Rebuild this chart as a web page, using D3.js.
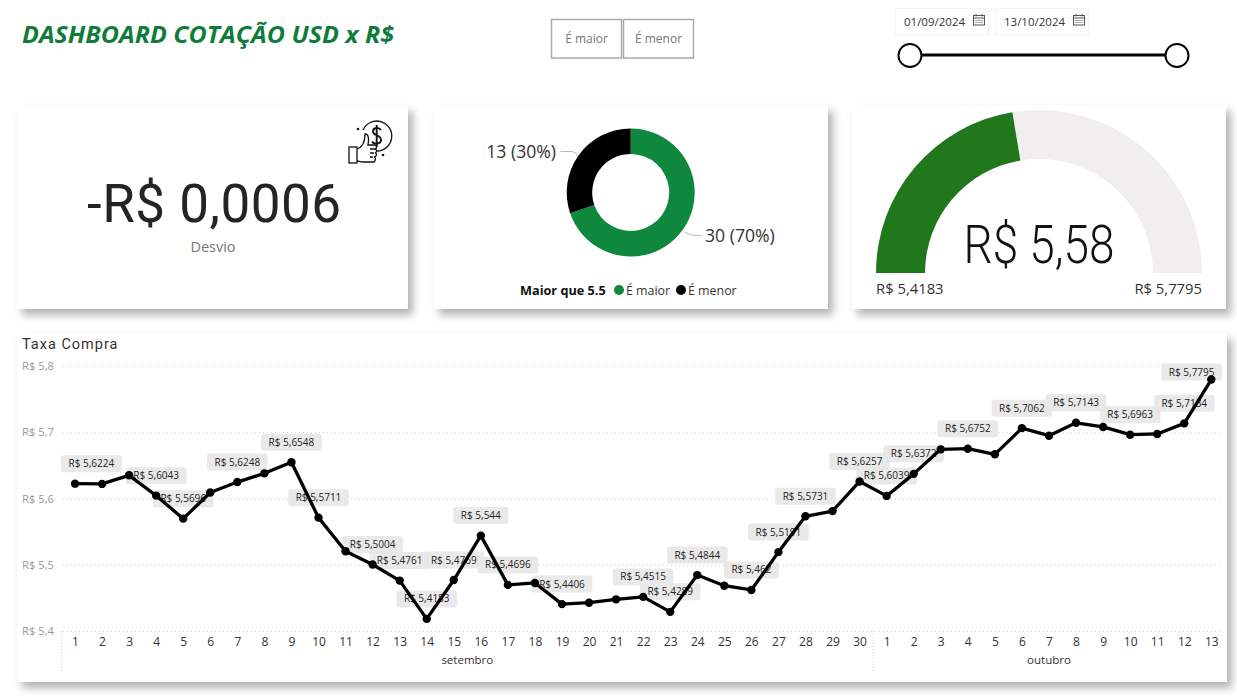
<!DOCTYPE html>
<html>
<head>
<meta charset="utf-8">
<script src="https://cdn.jsdelivr.net/npm/d3@7"></script>
<style>
  html, body { margin: 0; padding: 0; background: #fff; overflow: hidden; }
  svg { display: block; }
  text { font-family: "Open Sans", "Noto Sans", sans-serif; }
  .din { font-family: Roboto, sans-serif; }
  .y-axis .domain, .x-axis .domain, .x-axis .tick line { display: none; }
  .y-axis .tick line { stroke: #cfcfcf; stroke-dasharray: 1 3; }
  .y-axis .tick text { fill: #999; font-size: 11.2px; font-family: "Open Sans", sans-serif; }
  .x-axis .tick text { fill: #333; font-size: 12px; font-family: "Open Sans", sans-serif; }
</style>
</head>
<body>
<svg id="dash" width="1237" height="697"></svg>
<script>
const days = [
  1, 2, 3, 4, 5, 6, 7, 8, 9, 10, 11, 12, 13, 14, 15, 16, 17, 18, 19, 20, 21, 22, 23, 24, 25, 26, 27, 28, 29, 30,
  1, 2, 3, 4, 5, 6, 7, 8, 9, 10, 11, 12, 13,
];
const taxaCompra = [
  5.6224, 5.622, 5.635, 5.6043, 5.5696, 5.609, 5.6248, 5.638, 5.6548, 5.5711,
  5.5203, 5.5004, 5.4761, 5.4183, 5.4769, 5.544, 5.4696, 5.4725, 5.4406, 5.4427,
  5.4478, 5.4515, 5.4289, 5.4844, 5.4684, 5.462, 5.5191, 5.5731, 5.581, 5.6257,
  5.6039, 5.6372, 5.6742, 5.6752, 5.6667, 5.7062, 5.6948, 5.7143, 5.708, 5.6963,
  5.6974, 5.7134, 5.7795,
];
// positions in the series that carry a data label
const labelled = [0, 3, 4, 6, 8, 9, 11, 12, 13, 14, 15, 16, 18, 21, 22, 23, 25, 26, 27, 29, 30, 31, 33, 35, 37, 39, 41, 42];
const yTicks = [5.4, 5.5, 5.6, 5.7, 5.8];
const months = ["setembro", "outubro"];
const monthDays = [30, 13];

const donutNames = ["É maior", "É menor"];
const donutValues = [30, 13];
const donutLabels = ["30 (70%)", "13 (30%)"];
const donutColors = ["#0f873d", "#000000"];

const gaugeMin = 5.4183;
const gaugeMax = 5.7795;
const gaugeValue = 5.58;
const desvio = "-R$ 0,0006";
const dateFrom = "01/09/2024";
const dateTo = "13/10/2024";

const locale = d3.formatLocale({ decimal: ",", thousands: ".", grouping: [3], currency: ["R$ ", ""] });
const fmtLabel = locale.format("$.4~f");
const fmtTick = locale.format("$.1f");
const fmtGauge = locale.format("$.2f");
const fmtEnds = locale.format("$.4f");

const svg = d3.select("#dash");
const defs = svg.append("defs");
defs.append("filter")
  .attr("id", "card-shadow")
  .attr("x", "-5%").attr("y", "-5%").attr("width", "112%").attr("height", "115%")
  .append("feDropShadow")
  .attr("dx", 5).attr("dy", 6).attr("stdDeviation", 4)
  .attr("flood-color", "#000").attr("flood-opacity", 0.3);

function card(x, y, w, h) {
  svg.append("rect")
    .attr("x", x).attr("y", y).attr("width", w).attr("height", h)
    .attr("fill", "#fff")
    .attr("filter", "url(#card-shadow)");
}
card(17, 105, 391, 204);
card(434, 105, 394, 204);
card(852, 105, 374, 204);
card(17, 333, 1210, 349);

// header
svg.append("text")
  .attr("x", 22).attr("y", 43)
  .attr("fill", "#0f7c3b")
  .attr("font-size", 23.5).attr("font-weight", 700).attr("font-style", "italic")
  .attr("textLength", 372).attr("lengthAdjust", "spacingAndGlyphs")
  .text("DASHBOARD COTAÇÃO USD x R$");

const buttons = svg.append("g").selectAll("g")
  .data(donutNames)
  .join("g")
  .attr("transform", (d, i) => `translate(${551 + i * 72},19)`);
buttons.append("rect")
  .attr("x", 0.5).attr("y", 0.5).attr("width", 70).attr("height", 38.5)
  .attr("fill", "#fff").attr("stroke", "#ababab").attr("stroke-width", 1.5);
buttons.append("text")
  .attr("x", 35.5).attr("y", 24)
  .attr("text-anchor", "middle").attr("font-size", 12).attr("fill", "#777")
  .text((d) => d);

// date slicer
const dates = svg.append("g").selectAll("g")
  .data([dateFrom, dateTo])
  .join("g")
  .attr("transform", (d, i) => `translate(${895 + i * 100},8)`);
dates.append("rect")
  .attr("x", 0.5).attr("y", 0.5).attr("width", 93).attr("height", 26.5)
  .attr("fill", "#fff").attr("stroke", "#f4f4f4");
dates.append("text")
  .attr("x", 9).attr("y", 18)
  .attr("font-size", 11.5).attr("fill", "#333")
  .text((d) => d);
const cal = dates.append("g").attr("transform", "translate(78,6)")
  .attr("fill", "none").attr("stroke", "#555").attr("stroke-width", 1);
cal.append("rect").attr("x", 0.5).attr("y", 1.5).attr("width", 11).attr("height", 9.5);
cal.append("path").attr("d", "M0.5 4H11.5M3 0V2.5M9 0V2.5");
cal.append("path").attr("d", "M2.5 6.5H9.5M2.5 8.5H9.5").attr("stroke-dasharray", "1 1");

svg.append("line")
  .attr("x1", 910).attr("x2", 1177).attr("y1", 55).attr("y2", 55)
  .attr("stroke", "#000").attr("stroke-width", 3);
svg.append("g").selectAll("circle")
  .data([910, 1177])
  .join("circle")
  .attr("cx", (d) => d).attr("cy", 55.5).attr("r", 11.5)
  .attr("fill", "#fff").attr("stroke", "#000").attr("stroke-width", 2);

// KPI card
svg.append("text")
  .attr("class", "din")
  .attr("x", 214).attr("y", 222)
  .attr("text-anchor", "middle")
  .attr("font-size", 53).attr("fill", "#252423")
  .attr("textLength", 254).attr("lengthAdjust", "spacing")
  .text(desvio);
svg.append("text")
  .attr("x", 213).attr("y", 252)
  .attr("text-anchor", "middle").attr("font-size", 14.5).attr("fill", "#777")
  .text("Desvio");

const icon = svg.append("g").attr("transform", "translate(348,120)")
  .attr("fill", "none").attr("stroke", "#111").attr("stroke-width", 1.3);
icon.append("path").attr("d", "M15 10A15 15 0 1 1 29 31");
icon.append("path").attr("stroke-width", 1.9).attr("d", "M33 10C31 7 25 7 25 11.5C25 16 33 14.5 33 20C33 24 26 25 24 21.5M28.7 5V27");
icon.append("rect").attr("x", 1).attr("y", 27).attr("width", 8).attr("height", 16);
icon.append("path").attr("d", "M9 29C15 27 17 22 17 14C21 14 21 20 20 25H27C29 25 29 29 27 29H26M27 29C29 29 29 33 27 33M27 33C29 33 29 37 26 37M26 37C28 37 28 42 25 42H15C12 42 11 41 9 41");
icon.append("path").attr("d", "M22 29H26M22 33H26M22 37H25");
icon.append("g").attr("fill", "#111").attr("stroke", "none").selectAll("circle")
  .data([[10, 9], [35, 35]])
  .join("circle")
  .attr("cx", (d) => d[0]).attr("cy", (d) => d[1]).attr("r", 1.3);

// donut
const pie = d3.pie().sort(null)(donutValues);
const donutArc = d3.arc().innerRadius(38.5).outerRadius(64);
const donut = svg.append("g").attr("transform", "translate(630.7,192.5)");
donut.selectAll("path")
  .data(pie)
  .join("path")
  .attr("d", donutArc)
  .attr("fill", (d, i) => donutColors[i]);

svg.append("path")
  .attr("d", "M560.5 151.5H572Q576 151.5 578 157")
  .attr("fill", "none").attr("stroke", "#bbb");
svg.append("path")
  .attr("d", "M685 232Q690 235.5 695 235.5H702")
  .attr("fill", "none").attr("stroke", "#bbb");
svg.append("text")
  .attr("x", 556).attr("y", 158).attr("text-anchor", "end")
  .attr("font-size", 17.6).attr("fill", "#333")
  .text(donutLabels[1]);
svg.append("text")
  .attr("x", 705).attr("y", 242)
  .attr("font-size", 17.6).attr("fill", "#333")
  .text(donutLabels[0]);

svg.append("text")
  .attr("x", 520).attr("y", 295)
  .attr("font-size", 12.7).attr("font-weight", 700).attr("fill", "#111")
  .text("Maior que 5.5");
const legend = svg.append("g").selectAll("g")
  .data(donutNames)
  .join("g")
  .attr("transform", (d, i) => `translate(${619 + i * 62},290)`);
legend.append("circle")
  .attr("r", 5)
  .attr("fill", (d, i) => donutColors[i]);
legend.append("text")
  .attr("x", 7).attr("y", 5)
  .attr("font-size", 12.4).attr("fill", "#333")
  .text((d) => d);

// gauge
const gaugeAngle = d3.scaleLinear().domain([gaugeMin, gaugeMax]).range([-Math.PI / 2, Math.PI / 2]);
const gaugeArc = d3.arc().innerRadius(114).outerRadius(163);
const gauge = svg.append("g").attr("transform", "translate(1039,273)");
gauge.append("path")
  .attr("d", gaugeArc({ startAngle: -Math.PI / 2, endAngle: Math.PI / 2 }))
  .attr("fill", "#f1efee");
gauge.append("path")
  .attr("d", gaugeArc({ startAngle: -Math.PI / 2, endAngle: gaugeAngle(gaugeValue) }))
  .attr("fill", "#21781c");
svg.append("text")
  .attr("class", "din")
  .attr("x", 1039).attr("y", 263)
  .attr("text-anchor", "middle")
  .attr("font-size", 54).attr("font-weight", 300).attr("fill", "#111")
  .attr("textLength", 151).attr("lengthAdjust", "spacingAndGlyphs")
  .text(fmtGauge(gaugeValue));
svg.append("text")
  .attr("x", 876).attr("y", 294)
  .attr("font-size", 14.8).attr("fill", "#333")
  .text(fmtEnds(gaugeMin));
svg.append("text")
  .attr("x", 1202).attr("y", 294).attr("text-anchor", "end")
  .attr("font-size", 14.8).attr("fill", "#333")
  .text(fmtEnds(gaugeMax));

// line chart
svg.append("text")
  .attr("class", "din")
  .attr("x", 22).attr("y", 349)
  .attr("font-size", 14.5).attr("fill", "#333").attr("letter-spacing", 1)
  .text("Taxa Compra");

const idx = d3.range(days.length);
const x = d3.scalePoint().domain(idx).range([75, 1211.3]);
const y = d3.scaleLinear().domain([5.4, 5.8]).range([631, 366]);
const step = x.step();

svg.append("g")
  .attr("class", "y-axis")
  .attr("transform", "translate(63,0)")
  .call(d3.axisLeft(y).tickValues(yTicks).tickFormat(fmtTick).tickSize(-1158).tickPadding(9));

svg.append("g")
  .attr("class", "x-axis")
  .attr("transform", "translate(0,631)")
  .call(d3.axisBottom(x).tickFormat((i) => days[i]).tickSize(0).tickPadding(6));

// month bands under the axis
let start = 0;
const bands = months.map((name, i) => {
  const band = { name, first: start, last: start + monthDays[i] - 1 };
  start += monthDays[i];
  return band;
});
svg.append("g").selectAll("line")
  .data(bands)
  .join("line")
  .attr("x1", (d) => x(d.first) - step / 2)
  .attr("x2", (d) => x(d.first) - step / 2)
  .attr("y1", 631).attr("y2", 671)
  .attr("stroke", "#d0d0d0").attr("stroke-dasharray", "1 2");
svg.append("g").selectAll("text")
  .data(bands)
  .join("text")
  .attr("x", (d) => (x(d.first) + x(d.last)) / 2)
  .attr("y", 664)
  .attr("text-anchor", "middle").attr("font-size", 11.5).attr("fill", "#333")
  .text((d) => d.name);

// labels go under the line, as in the report
const boxH = 17;
const labelG = svg.append("g").selectAll("g")
  .data(labelled)
  .join("g");
labelG.each(function (i) {
  const g = d3.select(this);
  const t = g.append("text")
    .attr("text-anchor", "middle").attr("font-size", 10).attr("fill", "#222")
    .attr("dy", "0.35em")
    .text(fmtLabel(taxaCompra[i]));
  const w = t.node().getComputedTextLength() + 15;
  const cx = Math.min(Math.max(x(i), 61 + w / 2), 1222 - w / 2);
  const cy = Math.max(y(taxaCompra[i]) - 20, 372);
  g.attr("transform", `translate(${cx},${cy})`);
  g.insert("rect", "text")
    .attr("x", -w / 2).attr("y", -boxH / 2).attr("width", w).attr("height", boxH)
    .attr("rx", 3)
    .attr("fill", "#e8e7e7").attr("fill-opacity", 0.9);
});

const line = d3.line().x((i) => x(i)).y((i) => y(taxaCompra[i]));
svg.append("path")
  .datum(idx)
  .attr("d", line)
  .attr("fill", "none").attr("stroke", "#000").attr("stroke-width", 3.3).attr("stroke-linejoin", "round");
svg.append("g").selectAll("circle")
  .data(idx)
  .join("circle")
  .attr("cx", (i) => x(i))
  .attr("cy", (i) => y(taxaCompra[i]))
  .attr("r", 4.2)
  .attr("fill", "#000");
</script>
</body>
</html>
